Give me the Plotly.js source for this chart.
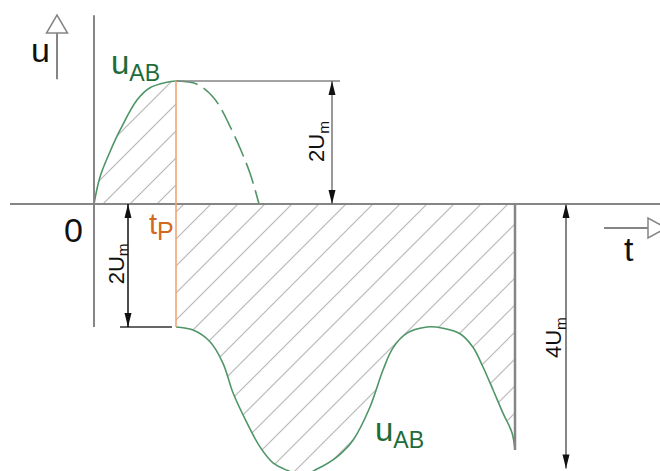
<!DOCTYPE html>
<html>
<head>
<meta charset="utf-8">
<script src="https://cdn.plot.ly/plotly-3.0.1.min.js"></script>
<style>html,body{margin:0;padding:0;background:#fff;}</style>
</head>
<body>
<div id="chart" style="width:660px;height:471px;"></div>
<script>
// u_AB(t): t in drawing units from the origin, u in units of Um
const riseT = [0, 6, 16, 26, 43, 56, 73, 82];
const riseU = [0, 0.44, 0.85, 1.20, 1.69, 1.89, 1.98, 2.0];
// continuation of the first half-wave after t_P (dashed)
const fallT = [82, 99, 109, 119, 126, 134, 146, 156, 165];
const fallU = [2.0, 1.97, 1.89, 1.74, 1.58, 1.33, 0.91, 0.50, 0];
// negative part after t_P
const lowT = [82, 99, 116, 129, 139, 153, 166, 179, 193, 208, 223, 243, 259, 276, 289, 299, 313, 333, 349, 366, 379, 389, 399, 409, 418, 421];
const lowU = [-2.0, -2.05, -2.24, -2.59, -3.07, -3.56, -3.95, -4.21, -4.33, -4.41, -4.31, -4.11, -3.84, -3.30, -2.70, -2.34, -2.10, -2.0, -2.02, -2.11, -2.33, -2.65, -3.02, -3.40, -3.72, -4.0];

// key instants and levels
const tP = 82;
const tEnd = 421;
const peakLevel = 2;      // 2Um
const lowLevel = -2;      // -2Um
const endLevel = -4;      // -4Um
const dim4Bottom = -4.3;  // lower end of the 4Um dimension line

const green = '#4f9567';
const darkGreen = '#1f6b3a';
const orange = '#d2691e';
const gray = '#858585';
const font = 'Liberation Sans, Arial, sans-serif';
const narrow = 'Liberation Sans Narrow, Arial Narrow, Liberation Sans, sans-serif';

const hatch = {shape: '/', size: 19.09, solidity: 0.06, fgcolor: '#b5b5b5', fgopacity: 1};

const traces = [
  // baseline for the positive hatched area
  {x: [0, tP], y: [0, 0], mode: 'lines', line: {width: 0}, hoverinfo: 'skip'},
  {x: riseT, y: riseU, mode: 'lines', fill: 'tonexty', fillpattern: hatch, fillcolor: 'rgba(0,0,0,0)',
   line: {color: green, width: 1.6, shape: 'spline', smoothing: 1}, hoverinfo: 'skip'},
  // baseline for the negative hatched area
  {x: [tP, tEnd], y: [0, 0], mode: 'lines', line: {width: 0}, hoverinfo: 'skip'},
  {x: lowT, y: lowU, mode: 'lines', fill: 'tonexty', fillpattern: hatch, fillcolor: 'rgba(0,0,0,0)',
   line: {color: green, width: 1.6, shape: 'spline', smoothing: 1}, hoverinfo: 'skip'},
  // dashed continuation
  {x: fallT, y: fallU, mode: 'lines',
   line: {color: green, width: 1.6, shape: 'spline', smoothing: 1, dash: '22px,7px'}, hoverinfo: 'skip'}
];

function seg(x0, y0, x1, y1, color, width) {
  return {type: 'line', xref: 'x', yref: 'y', x0, y0, x1, y1, line: {color, width}};
}
function head(x, y, dir) {
  const p = dir === 'up' ? 'M0,0L-3.5,-14L3.5,-14Z' : 'M0,0L-3.5,14L3.5,14Z';
  return {type: 'path', xref: 'x', yref: 'y', xsizemode: 'pixel', ysizemode: 'pixel',
          xanchor: x, yanchor: y, path: p, fillcolor: '#111', line: {width: 0}};
}
function dimension(x, top, bottom, color, width) {
  return [seg(x, top, x, bottom, color, width), head(x, top, 'up'), head(x, bottom, 'down')];
}

const shapes = [
  seg(-84, 0, 566, 0, gray, 2),            // time axis
  seg(0, 3.07, 0, lowLevel, gray, 2),      // vertical axis
  seg(-37, 2.03, -37, 2.78, gray, 2),      // u arrow shaft
  {type: 'path', xref: 'x', yref: 'y', xsizemode: 'pixel', ysizemode: 'pixel', xanchor: -37, yanchor: 2.78,
   path: 'M-10.5,0L10.5,0L0,18Z', fillcolor: '#fff', line: {color: gray, width: 1.5}},
  seg(510, -0.39, 554, -0.39, gray, 2),    // t arrow shaft
  {type: 'path', xref: 'x', yref: 'y', xsizemode: 'pixel', ysizemode: 'pixel', xanchor: 554, yanchor: -0.39,
   path: 'M0,10L0,-10L18,0Z', fillcolor: '#fff', line: {color: gray, width: 1.5}},
  seg(tP, peakLevel, 246, peakLevel, gray, 1.6),
  seg(26, lowLevel, 78, lowLevel, '#333', 1.5),
  seg(tP, peakLevel, tP, lowLevel, '#f2a577', 1.6),
  seg(tEnd, 0, tEnd, endLevel, gray, 2.5),
  ...dimension(238, peakLevel, 0, '#777', 1.5),
  ...dimension(34, 0, lowLevel, '#111', 1.5),
  ...dimension(472, 0, dim4Bottom, gray, 2)
];

function label(x, y, text, size, color, angle, family) {
  return {x, y, xref: 'x', yref: 'y', text, showarrow: false, textangle: angle || 0,
          font: {family: family || font, size, color}};
}

const annotations = [
  label(-54, 2.50, 'u', 34, '#111'),
  label(-21, -0.42, '0', 34, '#111'),
  label(535, -0.73, 't', 34, '#111'),
  label(41, 2.26, 'u<sub>AB</sub>', 33, darkGreen, 0, narrow),
  label(305, -3.70, 'u<sub>AB</sub>', 33, darkGreen, 0, narrow),
  label(67, -0.36, 't<sub><span style="font-size:25px">P</span></sub>', 29, orange),
  label(224, 1.01, '2U<sub>m</sub>', 22, '#111', -90),
  label(24, -0.98, '2U<sub>m</sub>', 22, '#111', -90),
  label(461, -2.18, '4U<sub>m</sub>', 22, '#111', -90)
];

const um = 61.5; // pixels per Um
const layout = {
  width: 660, height: 471,
  margin: {l: 10, r: 0, t: 0, b: 0},
  paper_bgcolor: '#fff', plot_bgcolor: '#fff',
  showlegend: false,
  xaxis: {range: [-84, 566], visible: false, fixedrange: true},
  yaxis: {range: [204 / um - 471 / um, 204 / um], visible: false, fixedrange: true},
  shapes, annotations
};

Plotly.newPlot('chart', traces, layout, {staticPlot: true, displayModeBar: false});
</script>
</body>
</html>
